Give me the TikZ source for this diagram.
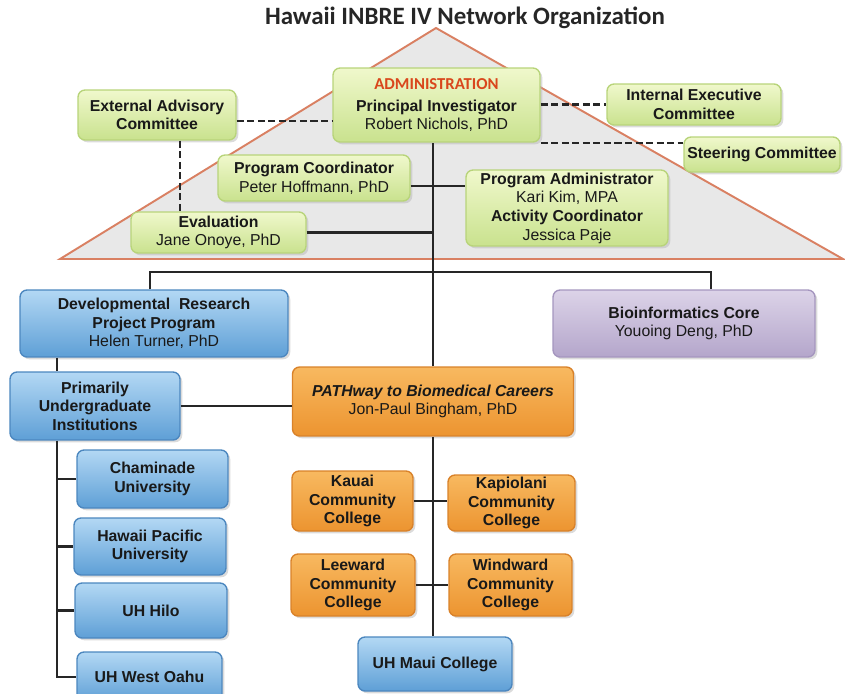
\documentclass[tikz,border=0pt]{standalone}
\usepackage{fontspec}
\setsansfont{Liberation Sans}
\newfontfamily\titlefont{Carlito}
\usetikzlibrary{shadows}

\definecolor{LimeTop}{HTML}{F0F8CC}
\definecolor{LimeBot}{HTML}{C9E28E}
\definecolor{LimeEdge}{HTML}{B8D47A}
\definecolor{SkyTop}{HTML}{B3D8F4}
\definecolor{SkyBot}{HTML}{5E9FD6}
\definecolor{SkyEdge}{HTML}{4C87BF}
\definecolor{OrgTop}{HTML}{F8B960}
\definecolor{OrgBot}{HTML}{EC9430}
\definecolor{OrgEdge}{HTML}{D9822A}
\definecolor{LilTop}{HTML}{DCD3E8}
\definecolor{LilBot}{HTML}{B4A6CB}
\definecolor{LilEdge}{HTML}{A596BF}
\definecolor{AdminRed}{HTML}{D9471C}
\definecolor{Roof}{HTML}{D98062}

\begin{document}
\begin{tikzpicture}[x=0.02cm,y=-0.02cm,thick,
    box/.style={rounded corners=4pt,align=center,inner sep=1pt,text=black!90,
        font=\sffamily\fontsize{9}{10.6}\selectfont,
        drop shadow={shadow xshift=1.3pt,shadow yshift=-1.3pt,fill=black!28}},
    green node/.style={box,draw=LimeEdge,top color=LimeTop,bottom color=LimeBot},
    blue node/.style={box,draw=SkyEdge,top color=SkyTop,bottom color=SkyBot},
    orange node/.style={box,draw=OrgEdge,top color=OrgTop,bottom color=OrgBot},
    lilac node/.style={box,draw=LilEdge,top color=LilTop,bottom color=LilBot},
    link/.style={line width=1.2pt,black!85},
    dash link/.style={link,dash pattern=on 4pt off 2pt}]

    \useasboundingbox (0,0) rectangle (845,693);

    % roof
    \draw[Roof,line width=1.1pt,fill=black!9] (436,28) -- (843,259) -- (60,259) -- cycle;
    \node[font=\titlefont\bfseries\fontsize{14.2}{16}\selectfont,text=black!85] (title) at (465,18) {Hawaii INBRE IV Network Organization};

    % administration
    \node[green node,minimum width=4.14cm,minimum height=1.48cm] (admin) at (436.5,105)
        {{\titlefont\bfseries\fontsize{9.5}{11}\selectfont\color{AdminRed}ADMINISTRATION}\\[2pt]\textbf{Principal Investigator}\\Robert Nichols, PhD};
    \node[green node,minimum width=3.16cm,minimum height=1.0cm] (ext) at (157,115) {\textbf{External Advisory}\\\textbf{Committee}};
    \node[green node,minimum width=3.48cm,minimum height=0.82cm] (iec) at (694,104.5) {\textbf{Internal Executive}\\\textbf{Committee}};
    \node[green node,minimum width=3.12cm,minimum height=0.7cm] (steer) at (762,154.5) {\textbf{Steering Committee}};
    \node[green node,minimum width=3.84cm,minimum height=0.92cm] (coord) at (314,178) {\textbf{Program Coordinator}\\Peter Hoffmann, PhD};
    \node[green node,minimum width=4.04cm,minimum height=1.52cm] (padmin) at (567,208)
        {\textbf{Program Administrator}\\Kari Kim, MPA\\\textbf{Activity Coordinator}\\Jessica Paje};
    \node[green node,minimum width=3.5cm,minimum height=0.82cm] (eval) at (218.5,232.5) {\textbf{Evaluation}\\Jane Onoye, PhD};

    % cores and programs
    \node[blue node,minimum width=5.36cm,minimum height=1.34cm] (drpp) at (154,323.5)
        {\textbf{Developmental\ \ Research}\\\textbf{Project Program}\\Helen Turner, PhD};
    \node[lilac node,minimum width=5.24cm,minimum height=1.34cm] (bioinf) at (684,323.5) {\textbf{Bioinformatics Core}\\Youoing Deng, PhD};
    \node[blue node,minimum width=3.4cm,minimum height=1.36cm] (pui) at (95,406) {\textbf{Primarily}\\\textbf{Undergraduate}\\\textbf{Institutions}};
    \node[orange node,minimum width=5.62cm,minimum height=1.38cm] (path) at (433,401.5)
        {\textbf{\textit{PATHway to Biomedical Careers}}\\Jon-Paul Bingham, PhD};

    % universities
    \node[blue node,minimum width=3.02cm,minimum height=1.16cm] (cham) at (152.5,479) {\textbf{Chaminade}\\\textbf{University}};
    \node[blue node,minimum width=3.04cm,minimum height=1.14cm] (hpu) at (150,546.5) {\textbf{Hawaii Pacific}\\\textbf{University}};
    \node[blue node,minimum width=3.04cm,minimum height=1.1cm] (hilo) at (151,610.5) {\textbf{UH Hilo}};
    \node[blue node,minimum width=2.9cm,minimum height=1.0cm] (west) at (149.5,677) {\textbf{UH West Oahu}};

    % community colleges
    \node[orange node,minimum width=2.42cm,minimum height=1.2cm] (kauai) at (352.5,501) {\textbf{Kauai}\\\textbf{Community}\\\textbf{College}};
    \node[orange node,minimum width=2.54cm,minimum height=1.12cm] (kapiolani) at (511.5,503) {\textbf{Kapiolani}\\\textbf{Community}\\\textbf{College}};
    \node[orange node,minimum width=2.48cm,minimum height=1.24cm] (leeward) at (353,585) {\textbf{Leeward}\\\textbf{Community}\\\textbf{College}};
    \node[orange node,minimum width=2.46cm,minimum height=1.24cm] (windward) at (510.5,585) {\textbf{Windward}\\\textbf{Community}\\\textbf{College}};
    \node[blue node,minimum width=3.08cm,minimum height=1.08cm] (maui) at (435,664) {\textbf{UH Maui College}};

    \coordinate (bus) at (433,272);
    \coordinate (spine) at (57,0);

    % advisory links
    \draw[dash link] ([yshift=-0.12cm]ext.east) -- ([yshift=-0.12cm]ext.east -| admin.west);
    \draw[dash link] ([xshift=0.46cm]ext.south) -- ([xshift=0.46cm]ext.south |- eval.north);
    \draw[dash link] (admin.east |- iec.west) -- (iec.west);
    \draw[dash link] (admin.south east) -- (admin.south east -| steer.west);

    % line of authority
    \draw[link] (path.north) -- (path.north |- admin.south);
    \draw[link] ([yshift=-0.16cm]coord.east) -- ([yshift=-0.16cm]coord.east -| padmin.west);
    \draw[link] (eval.east) -- (eval.east -| path.north);
    \draw[link] ([xshift=-0.08cm]drpp.north) |- (bus) -| ([xshift=0.54cm]bioinf.north);
    \draw[link] (drpp.south -| spine) -- (pui.north -| spine);
    \draw[link] (pui.east) -- (pui.east -| path.west);
    \draw[link] (pui.south -| spine) |- (west.west);
    \foreach \u in {cham,hpu,hilo}
        \draw[link] (\u.west) -- (\u.west -| spine);

    \draw[link] (path.south) -- (path.south |- maui.north);
    \draw[link] (kauai.east) -- (kauai.east -| kapiolani.west);
    \draw[link] (leeward.east) -- (windward.west);
\end{tikzpicture}
\end{document}
